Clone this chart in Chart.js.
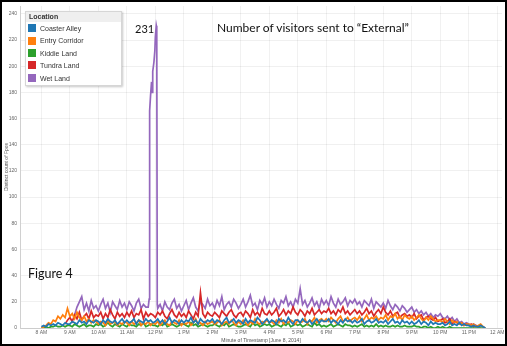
<!doctype html>
<html lang="en">
<head>
<meta charset="UTF-8" />
<title>Number of visitors sent to "External"</title>
<script src="https://cdn.jsdelivr.net/npm/chart.js"></script>
<style>
  html, body { margin: 0; padding: 0; background: #fff; }
  .frame { position: relative; width: 507px; height: 346px; overflow: hidden; font-family: 'Liberation Sans', Arial, sans-serif; }
  .frame canvas { position: absolute; left: 0; top: 0; }
  .border { position: absolute; left: 0; top: 0; width: 507px; height: 346px; border: 2px solid #000; box-sizing: border-box; pointer-events: none; }
  .note { position: absolute; font-family: Lato, 'Liberation Sans', sans-serif; color: #111; line-height: 1; white-space: nowrap; }
  .legend { position: absolute; left: 25px; top: 11px; width: 97px; height: 75px; box-sizing: border-box; border: 1px solid #d6d6d6; background: #fff; box-shadow: 1px 1px 2px rgba(0,0,0,0.22); }
  .legend .head { height: 10px; line-height: 10px; background: #efefef; padding-left: 3px; font-size: 7px; font-weight: bold; color: #333; }
  .legend .rows { padding-top: 1px; }
  .legend .row { height: 12.4px; line-height: 12.4px; font-size: 7px; color: #333; white-space: nowrap; }
  .legend .sw { display: inline-block; width: 8px; height: 8px; margin: 0 4px 0 2px; vertical-align: middle; position: relative; top: -1px; }
</style>
</head>
<body>
<div class="frame">
  <canvas id="visitors" width="507" height="346"></canvas>
  <div class="legend" id="legend"><div class="head">Location</div><div class="rows" id="legendRows"></div></div>
  <div class="note" style="left:135px; top:23px; font-size:11px;">231</div>
  <div class="note" style="left:217px; top:22px; font-size:12px;">Number of visitors sent to “External”</div>
  <div class="note" style="left:28px; top:268px; font-size:12.5px;">Figure 4</div>
  <div class="border"></div>
</div>

<script>
  // 5-minute readings from 8:00 AM to 11:35 PM (minutes after midnight)
  const times = []
  for (let m = 480; m <= 1415; m += 5) times.push(m)

  const locations = ['Coaster Alley', 'Entry Corridor', 'Kiddie Land', 'Tundra Land', 'Wet Land']
  const colors = ['#1f77b4', '#ff7f0e', '#2ca02c', '#d62728', '#9467bd']

  // one row per hour
  const coasterAlley = [
    1,2,1,3,2,3,2,4,3,2,4,3,
    3,5,4,3,6,4,5,3,6,5,4,6,
    5,3,6,4,7,5,4,6,3,5,7,4,
    6,4,5,7,3,6,5,4,7,5,6,4,
    5,7,4,6,3,5,8,4,6,5,3,6,
    4,6,5,8,4,6,3,7,5,4,6,5,
    7,4,6,5,3,6,8,4,5,7,4,6,
    5,3,7,4,6,5,4,8,6,3,5,7,
    4,6,5,3,7,5,6,4,8,5,3,6,
    6,4,7,5,4,6,3,5,7,4,6,5,
    5,7,4,6,5,3,6,4,7,5,6,4,
    6,4,5,7,3,5,6,4,5,7,4,5,
    4,6,3,5,7,4,5,3,6,4,5,3,
    5,3,4,6,3,5,4,2,5,3,4,3,
    3,4,2,3,5,2,3,2,4,2,3,2,
    2,1,2,1,1,2,1,0
  ]
  const entryCorridor = [
    0,1,2,4,3,6,5,9,7,10,8,15,
    9,11,7,12,8,6,9,5,7,4,6,5,
    3,5,4,2,6,3,4,5,2,4,3,5,
    4,2,5,3,4,6,2,4,3,5,2,4,
    3,5,2,4,6,3,2,5,4,3,6,2,
    4,3,5,2,4,7,3,4,2,5,3,4,
    5,3,4,6,2,4,5,3,6,4,2,5,
    3,6,4,2,5,3,7,4,3,5,4,6,
    4,5,3,6,4,7,3,5,4,6,5,3,
    6,4,5,7,3,6,5,8,4,6,7,5,
    7,5,8,6,4,7,9,5,6,8,5,7,
    8,6,9,5,7,10,6,8,7,9,6,8,
    7,10,6,9,8,11,7,9,6,10,8,7,
    9,6,8,10,7,5,8,6,9,7,5,6,
    6,4,7,5,3,6,4,5,3,4,2,3,
    3,2,3,1,2,3,1,0
  ]
  const kiddieLand = [
    0,0,1,0,1,1,2,1,1,2,1,2,
    2,1,3,2,1,2,3,1,2,2,1,3,
    2,3,1,2,4,2,1,3,2,1,3,2,
    1,3,2,2,1,3,2,4,1,2,3,2,
    2,1,3,2,4,1,2,3,2,1,2,3,
    3,2,1,4,2,3,1,2,3,2,1,2,
    2,3,2,1,3,2,4,1,2,3,2,1,
    1,2,3,2,1,4,2,3,1,2,3,2,
    3,1,2,3,2,1,3,2,4,1,2,3,
    2,3,1,2,3,2,1,4,2,3,1,2,
    1,2,3,1,2,3,2,1,3,2,2,1,
    2,1,2,3,1,2,1,2,1,3,1,2,
    1,2,1,1,2,1,2,1,1,2,1,1,
    1,2,1,1,0,1,1,0,1,0,0,1,
    0,1,0,0,1,0,0,0,0,0,0,0,
    0,0,0,0,0,0,0,0
  ]
  const tundraLand = [
    null,null,null,null,null,null,null,null,null,null,3,6,
    8,5,10,7,12,6,9,11,7,13,8,10,
    9,12,7,11,8,14,10,7,12,9,11,8,
    12,9,13,8,11,10,14,7,12,9,11,10,
    8,12,10,13,9,7,11,14,10,8,12,9,
    11,8,13,10,7,12,9,27,11,8,12,10,
    9,12,10,8,13,11,9,12,14,10,8,11,
    12,9,13,11,8,14,10,12,9,15,11,10,
    13,10,12,15,9,11,14,10,13,11,16,12,
    10,14,12,9,13,11,15,10,12,14,11,13,
    12,15,11,13,10,14,12,16,11,13,10,12,
    14,11,13,10,12,15,11,13,9,12,14,11,
    16,12,10,13,9,11,12,8,10,11,9,10,
    8,11,7,9,10,6,8,9,7,6,8,5,
    6,7,4,5,7,3,5,4,3,4,2,3,
    2,3,1,2,1,1,null,null
  ]
  const wetLand = [
    null,null,null,null,null,null,null,null,null,null,null,null,
    null,null,10,16,20,24,14,19,13,21,15,17,
    13,18,22,15,19,12,20,17,14,21,16,19,
    14,20,17,13,19,22,15,18,16,16,178,196,
    222,15,18,13,20,16,14,19,22,15,18,13,
    17,21,14,19,23,16,13,20,18,15,22,17,
    19,15,21,17,24,14,18,20,16,22,19,15,
    18,22,16,20,25,17,19,14,21,18,23,16,
    20,17,22,18,15,21,19,24,17,20,16,22,
    19,30,18,21,16,19,23,17,20,15,22,18,
    21,17,24,19,16,22,18,20,23,17,21,19,
    22,18,20,16,21,19,17,22,15,20,18,16,
    19,15,21,17,14,18,16,13,17,15,12,14,
    16,12,14,11,13,10,12,9,11,8,10,9,
    11,8,7,9,6,8,5,7,4,5,3,4,
    3,2,3,2,1,null,null,null
  ]
  // extra minute readings around the midday spike
  const wetSpikeTimes = [707, 708, 712, 713, 714, 717, 719, 722, 723, 724]
  const wetSpikeValues = [22, 166, 188, 180, 194, 203, 212, 231, 229, 18]

  const hourTicks = [480, 540, 600, 660, 720, 780, 840, 900, 960, 1020, 1080, 1140, 1200, 1260, 1320, 1380, 1440]
  const countTicks = [0, 20, 40, 60, 80, 100, 120, 140, 160, 180, 200, 220, 240]

  function toPoints(values) {
    const pts = []
    values.forEach((v, i) => {
      if (v !== null) pts.push({ x: times[i], y: v })
    })
    return pts
  }

  function hourLabel(v) {
    const h = Math.floor(v / 60) % 24
    return (h % 12 || 12) + (h < 12 ? ' AM' : ' PM')
  }

  const wetPoints = toPoints(wetLand)
    .concat(wetSpikeTimes.map((t, i) => ({ x: t, y: wetSpikeValues[i] })))
    .sort((a, b) => a.x - b.x)

  const seriesPoints = [
    toPoints(coasterAlley),
    toPoints(entryCorridor),
    toPoints(kiddieLand),
    toPoints(tundraLand),
    wetPoints
  ]

  // legend box
  const rows = document.getElementById('legendRows')
  locations.forEach((name, i) => {
    const row = document.createElement('div')
    row.className = 'row'
    row.innerHTML = '<span class="sw" style="background:' + colors[i] + '"></span>' + name
    rows.appendChild(row)
  })

  Chart.defaults.font.family = "'Liberation Sans', Arial, sans-serif"

  const ctx = document.getElementById('visitors').getContext('2d')
  new Chart(ctx, {
    type: 'line',
    data: {
      datasets: locations.map((name, i) => ({
        label: name,
        data: seriesPoints[i],
        borderColor: colors[i],
        backgroundColor: colors[i],
        borderWidth: 1.7,
        pointRadius: 0,
        tension: 0,
        fill: false
      }))
    },
    options: {
      responsive: false,
      animation: false,
      devicePixelRatio: 1,
      layout: { padding: { left: 2, right: 5, top: 3, bottom: 2 } },
      plugins: {
        legend: { display: false },
        tooltip: { enabled: false }
      },
      scales: {
        x: {
          type: 'linear',
          min: 435,
          max: 1450,
          afterBuildTicks: (axis) => {
            axis.ticks = hourTicks.map((v) => ({ value: v }))
          },
          afterFit: (scale) => {
            scale.height = 16
          },
          grid: { color: '#f1f1f1', drawTicks: false },
          border: { color: '#cccccc' },
          ticks: {
            padding: 2,
            autoSkip: false,
            maxRotation: 0,
            color: '#666',
            font: { size: 5 },
            callback: (v) => hourLabel(v)
          },
          title: {
            display: true,
            text: 'Minute of Timestamp [June 8, 2014]',
            color: '#555',
            font: { size: 5 },
            padding: 0
          }
        },
        y: {
          min: 0,
          max: 246,
          afterBuildTicks: (axis) => {
            axis.ticks = countTicks.map((v) => ({ value: v }))
          },
          afterFit: (scale) => {
            scale.width = 18
          },
          grid: { color: 'rgba(0,0,0,0.06)', borderDash: [1, 6], drawTicks: false },
          border: { color: '#d0d0d0' },
          ticks: { padding: 3, color: '#666', font: { size: 5 } },
          title: {
            display: true,
            text: 'Distinct count of Fpos',
            color: '#555',
            font: { size: 5 },
            padding: { top: 2, bottom: 0 }
          }
        }
      }
    }
  })
</script>
</body>
</html>
